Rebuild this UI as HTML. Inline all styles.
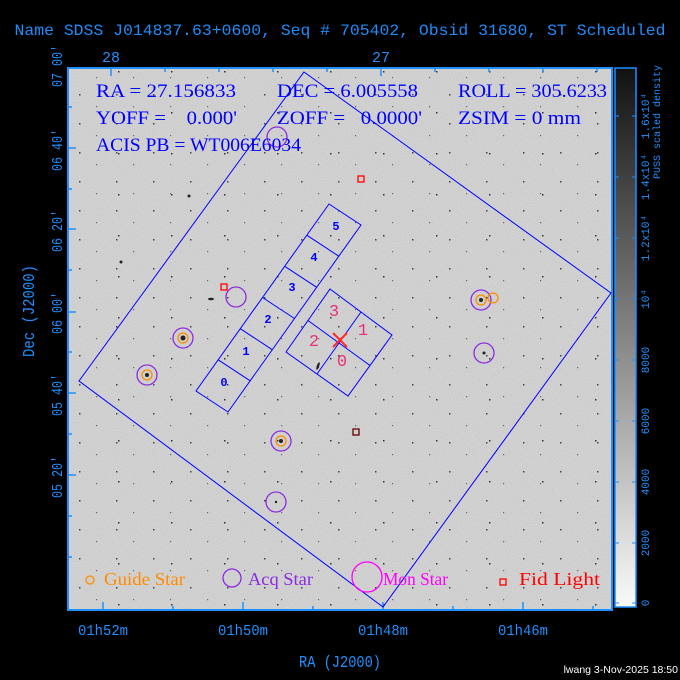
<!DOCTYPE html>
<html><head><meta charset="utf-8"><style>
body{margin:0;background:#000;width:680px;height:680px;overflow:hidden}
svg{display:block}
</style></head><body>
<svg width="680" height="680" xmlns="http://www.w3.org/2000/svg">
<defs>
<linearGradient id="cb" x1="0" y1="0" x2="0" y2="1"><stop offset="0" stop-color="#111"/><stop offset="1" stop-color="#fafafa"/></linearGradient>
<filter id="nz"><feTurbulence type="fractalNoise" baseFrequency="0.8" numOctaves="1" seed="3"/><feColorMatrix values="0 0 0 0 0  0 0 0 0 0  0 0 0 0 0  0 0 0 -1 0.7"/></filter>
<pattern id="d1" width="37" height="29" patternUnits="userSpaceOnUse"><rect x="5" y="7" width="1.5" height="1.5" fill="#444"/><rect x="22" y="19" width="1.2" height="1.2" fill="#666"/></pattern>
<pattern id="d2" width="53" height="41" patternUnits="userSpaceOnUse"><rect x="12" y="30" width="1.5" height="1.5" fill="#333"/></pattern>
</defs>
<rect width="680" height="680" fill="#000"/>
<text x="340" y="35" fill="#1e90ff" font-family="Liberation Mono, monospace" font-size="16" text-anchor="middle" textLength="651" lengthAdjust="spacingAndGlyphs">Name SDSS J014837.63+0600, Seq # 705402, Obsid 31680, ST Scheduled</text>
<rect x="68" y="68" width="544" height="542" fill="#d4d4d4"/>
<rect x="68" y="68" width="544" height="542" filter="url(#nz)" opacity="0.1"/>
<rect x="68" y="68" width="544" height="542" fill="url(#d1)"/>
<rect x="68" y="68" width="544" height="542" fill="url(#d2)"/>
<g fill="#222">
<circle cx="121" cy="262" r="1.5"/><circle cx="183" cy="338" r="2.5"/><circle cx="147" cy="375" r="2"/><circle cx="281" cy="441" r="2"/><circle cx="481" cy="300" r="2"/><circle cx="484" cy="353" r="1.5"/><circle cx="276" cy="502" r="1.2"/><ellipse cx="318" cy="366" rx="1.2" ry="4" transform="rotate(20 318 366)"/><ellipse cx="211" cy="299" rx="3" ry="1.2"/><circle cx="189" cy="196" r="1.5"/>
</g>
<rect x="68" y="68" width="544" height="542" fill="none" stroke="#1e90ff" stroke-width="2"/>
<g stroke="#1e90ff" stroke-width="1.5">
<path d="M111 68v8M381 68v8M165 68v4M219 68v4M273 68v4M327 68v4M435 68v4M489 68v4M543 68v4M597 68v4"/>
<path d="M103 610v-8M243 610v-8M383 610v-8M523 610v-8M173 610v-4M313 610v-4M453 610v-4M593 610v-4"/>
<path d="M68 148h8M68 229h8M68 312h8M68 393h8M68 475h8M68 107h4M68 189h4M68 270h4M68 352h4M68 434h4M68 516h4M68 557h4"/>
</g>
<g fill="none" stroke="#0000ff" stroke-width="1">
<polygon points="304,72 611,293 383,607 79,381"/>
<polygon points="329,204 361,225 228,412 196,391"/>
<path d="M218.2,359.8 L250.2,380.8 M240.3,328.7 L272.3,349.7 M262.5,297.5 L294.5,318.5 M284.7,266.3 L316.7,287.3 M306.8,235.2 L338.8,256.2"/>
<polygon points="330,289 392,335 348,396 286,352"/>
<path d="M361,312 L317,374 M308,320.5 L370,365.5"/>
</g>
<g stroke="#ff2a2a" stroke-width="2"><path d="M333,333 L347,347 M347,333 L333,347"/></g>
<g font-family="Liberation Mono, monospace" font-size="12" fill="#0000ff" text-anchor="middle" font-weight="bold">
<text x="224" y="386">0</text><text x="246" y="355">1</text><text x="268" y="323">2</text><text x="292" y="291">3</text><text x="314" y="261">4</text><text x="336" y="230">5</text>
</g>
<g font-family="Liberation Mono, monospace" font-size="17" fill="#e8307a" text-anchor="middle">
<text x="334" y="316">3</text><text x="363" y="335">1</text><text x="314" y="346">2</text><text x="342" y="366">0</text>
</g>
<g fill="none" stroke="#8a2be2" stroke-width="1.3">
<circle cx="277" cy="137" r="10"/><circle cx="236" cy="297" r="10"/><circle cx="183" cy="338" r="10"/><circle cx="147" cy="375" r="10"/><circle cx="281" cy="441" r="10"/><circle cx="276" cy="502" r="10"/><circle cx="481" cy="300" r="10"/><circle cx="484" cy="353" r="10"/>
<circle cx="232" cy="578" r="9"/>
</g>
<g fill="none" stroke="#ff8c00" stroke-width="1.3">
<circle cx="183" cy="338" r="5"/><circle cx="147" cy="375" r="5"/><circle cx="281" cy="441" r="5"/><circle cx="481" cy="300" r="5"/><circle cx="493" cy="298" r="5"/><circle cx="90" cy="580" r="4"/>
</g>
<g fill="none" stroke="#ff0000" stroke-width="1.3">
<rect x="358" y="176" width="6" height="6"/><rect x="221" y="284" width="6" height="6"/><rect x="353" y="429" width="6" height="6" stroke="#600"/><rect x="500" y="579" width="6" height="6"/>
</g>
<circle cx="367" cy="577" r="15" fill="none" stroke="#ff00ff" stroke-width="1.3"/>
<g font-family="Liberation Serif, serif" font-size="18">
<text x="104" y="585" fill="#ff8c00" textLength="81" lengthAdjust="spacingAndGlyphs">Guide Star</text>
<text x="248" y="585" fill="#8a2be2" textLength="65" lengthAdjust="spacingAndGlyphs">Acq Star</text>
<text x="383" y="585" fill="#ff00ff" textLength="65" lengthAdjust="spacingAndGlyphs">Mon Star</text>
<text x="519" y="585" fill="#ff0000" textLength="81" lengthAdjust="spacingAndGlyphs">Fid Light</text>
</g>
<g font-family="Liberation Serif, serif" font-size="19" fill="#0000ff">
<text x="96" y="97" textLength="140" lengthAdjust="spacingAndGlyphs">RA = 27.156833</text>
<text x="277" y="97" textLength="141" lengthAdjust="spacingAndGlyphs">DEC = 6.005558</text>
<text x="458" y="97" textLength="149" lengthAdjust="spacingAndGlyphs">ROLL = 305.6233</text>
<text x="96" y="124" textLength="141" lengthAdjust="spacingAndGlyphs">YOFF =&#160;&#160;&#160; 0.000'</text>
<text x="277" y="124" textLength="145" lengthAdjust="spacingAndGlyphs">ZOFF =&#160;&#160; 0.0000'</text>
<text x="458" y="124" textLength="123" lengthAdjust="spacingAndGlyphs">ZSIM = 0 mm</text>
<text x="96" y="151" textLength="205" lengthAdjust="spacingAndGlyphs">ACIS PB = WT006E6034</text>
</g>
<g font-family="Liberation Mono, monospace" font-size="15" fill="#1e90ff">
<text x="111" y="62" text-anchor="middle">28</text><text x="381" y="62" text-anchor="middle">27</text>
<text x="103" y="635" text-anchor="middle" textLength="50" lengthAdjust="spacingAndGlyphs">01h52m</text>
<text x="243" y="635" text-anchor="middle" textLength="50" lengthAdjust="spacingAndGlyphs">01h50m</text>
<text x="383" y="635" text-anchor="middle" textLength="50" lengthAdjust="spacingAndGlyphs">01h48m</text>
<text x="523" y="635" text-anchor="middle" textLength="50" lengthAdjust="spacingAndGlyphs">01h46m</text>
<text x="340" y="667" text-anchor="middle" font-size="17" textLength="82" lengthAdjust="spacingAndGlyphs">RA (J2000)</text>
<g text-anchor="middle">
<text transform="translate(62,66) rotate(-90)" textLength="42" lengthAdjust="spacingAndGlyphs">07 00'</text>
<text transform="translate(62,150) rotate(-90)" textLength="42" lengthAdjust="spacingAndGlyphs">06 40'</text>
<text transform="translate(62,231) rotate(-90)" textLength="42" lengthAdjust="spacingAndGlyphs">06 20'</text>
<text transform="translate(62,313) rotate(-90)" textLength="42" lengthAdjust="spacingAndGlyphs">06 00'</text>
<text transform="translate(62,395) rotate(-90)" textLength="42" lengthAdjust="spacingAndGlyphs">05 40'</text>
<text transform="translate(62,477) rotate(-90)" textLength="42" lengthAdjust="spacingAndGlyphs">05 20'</text>
<text transform="translate(34,311) rotate(-90)" font-size="17" textLength="92" lengthAdjust="spacingAndGlyphs">Dec (J2000)</text>
</g>
</g>
<rect x="615" y="68" width="21" height="539" fill="url(#cb)" stroke="#1e90ff" stroke-width="1.5"/>
<g stroke="#1e90ff" stroke-width="1"><path d="M615 603h4M632 603h4M615 543h4M632 543h4M615 482h4M632 482h4M615 421h4M632 421h4M615 360h4M632 360h4M615 299h4M632 299h4M615 238h4M632 238h4M615 177h4M632 177h4M615 116h4M632 116h4"/></g>
<g font-family="Liberation Mono, monospace" font-size="11" fill="#1e90ff" text-anchor="middle">
<text transform="translate(649,603) rotate(-90)">0</text>
<text transform="translate(649,543) rotate(-90)">2000</text>
<text transform="translate(649,482) rotate(-90)">4000</text>
<text transform="translate(649,421) rotate(-90)">6000</text>
<text transform="translate(649,360) rotate(-90)">8000</text>
<text transform="translate(649,299) rotate(-90)">10⁴</text>
<text transform="translate(649,238) rotate(-90)">1.2x10⁴</text>
<text transform="translate(649,177) rotate(-90)">1.4x10⁴</text>
<text transform="translate(649,116) rotate(-90)">1.6x10⁴</text>
<text transform="translate(660,122) rotate(-90)" font-size="10">PUSS scaled density</text>
</g>
<text x="678" y="673" fill="#fff" font-family="Liberation Sans, sans-serif" font-size="10.5" text-anchor="end">lwang  3-Nov-2025 18:50</text>
</svg>
</body></html>
